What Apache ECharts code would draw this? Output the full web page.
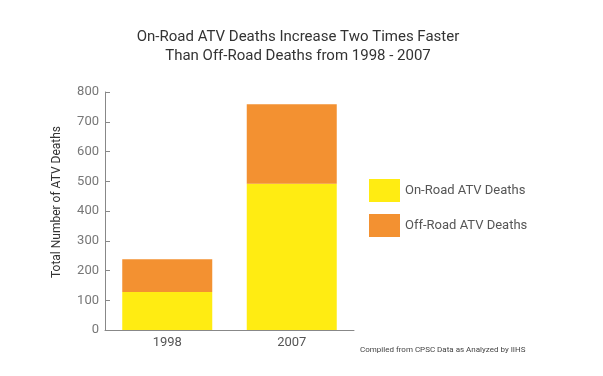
<!DOCTYPE html>
<html>
<head>
<meta charset="utf-8">
<script src="https://cdn.jsdelivr.net/npm/echarts@6/dist/echarts.min.js"></script>
<style>
  html, body { margin: 0; padding: 0; background: #fff; }
  #chart { width: 603px; height: 376px; }
</style>
</head>
<body>
<div id="chart"></div>
<script>
  var years = ['1998', '2007']
  var onRoad = [128, 492]
  var offRoad = [110, 267]

  var chart = echarts.init(document.getElementById('chart'))
  var font = 'Roboto'
  var option = {
    animation: false,
    textStyle: { fontFamily: font },
    title: {
      text: 'On-Road ATV Deaths Increase Two Times Faster\nThan Off-Road Deaths from 1998 - 2007',
      left: 293,
      textAlign: 'center',
      top: 23,
      textStyle: {
        fontFamily: font,
        fontSize: 15,
        fontWeight: 'normal',
        color: '#333',
        lineHeight: 19
      }
    },
    legend: {
      orient: 'vertical',
      left: 364,
      top: 174,
      itemWidth: 31,
      itemHeight: 23,
      itemGap: 12,
      icon: 'rect',
      textStyle: { fontFamily: font, fontSize: 13, color: '#555' },
      data: ['On-Road ATV Deaths', 'Off-Road ATV Deaths']
    },
    grid: { left: 105, right: 249, top: 92, bottom: 46 },
    xAxis: {
      type: 'category',
      data: years,
      axisLine: { lineStyle: { color: '#888' } },
      axisTick: { inside: true, length: 6, lineStyle: { color: '#888' } },
      axisLabel: { fontSize: 13, color: '#555', margin: 6 }
    },
    yAxis: {
      type: 'value',
      min: 0,
      max: 800,
      interval: 100,
      splitLine: { show: false },
      axisLine: { show: true, lineStyle: { color: '#888' } },
      axisTick: { show: true, inside: true, length: 5, lineStyle: { color: '#888' } },
      axisLabel: { fontSize: 13, color: '#777', margin: 6 }
    },
    series: [{
      name: 'On-Road ATV Deaths',
      type: 'bar',
      stack: 'deaths',
      barWidth: 90,
      itemStyle: { color: '#FFEC12' },
      data: onRoad
    }, {
      name: 'Off-Road ATV Deaths',
      type: 'bar',
      stack: 'deaths',
      barWidth: 90,
      itemStyle: { color: '#F39131' },
      data: offRoad
    }],
    graphic: [{
      type: 'text',
      x: 57,
      y: 202,
      rotation: Math.PI / 2,
      style: {
        text: 'Total Number of ATV Deaths',
        font: '12px Roboto',
        fill: '#333',
        align: 'center',
        verticalAlign: 'middle'
      }
    }, {
      type: 'text',
      left: 360,
      top: 346,
      style: {
        text: 'Compiled from CPSC Data as Analyzed by IIHS',
        font: '8px Roboto',
        fill: '#444'
      }
    }]
  }
  chart.setOption(option)
</script>
</body>
</html>
